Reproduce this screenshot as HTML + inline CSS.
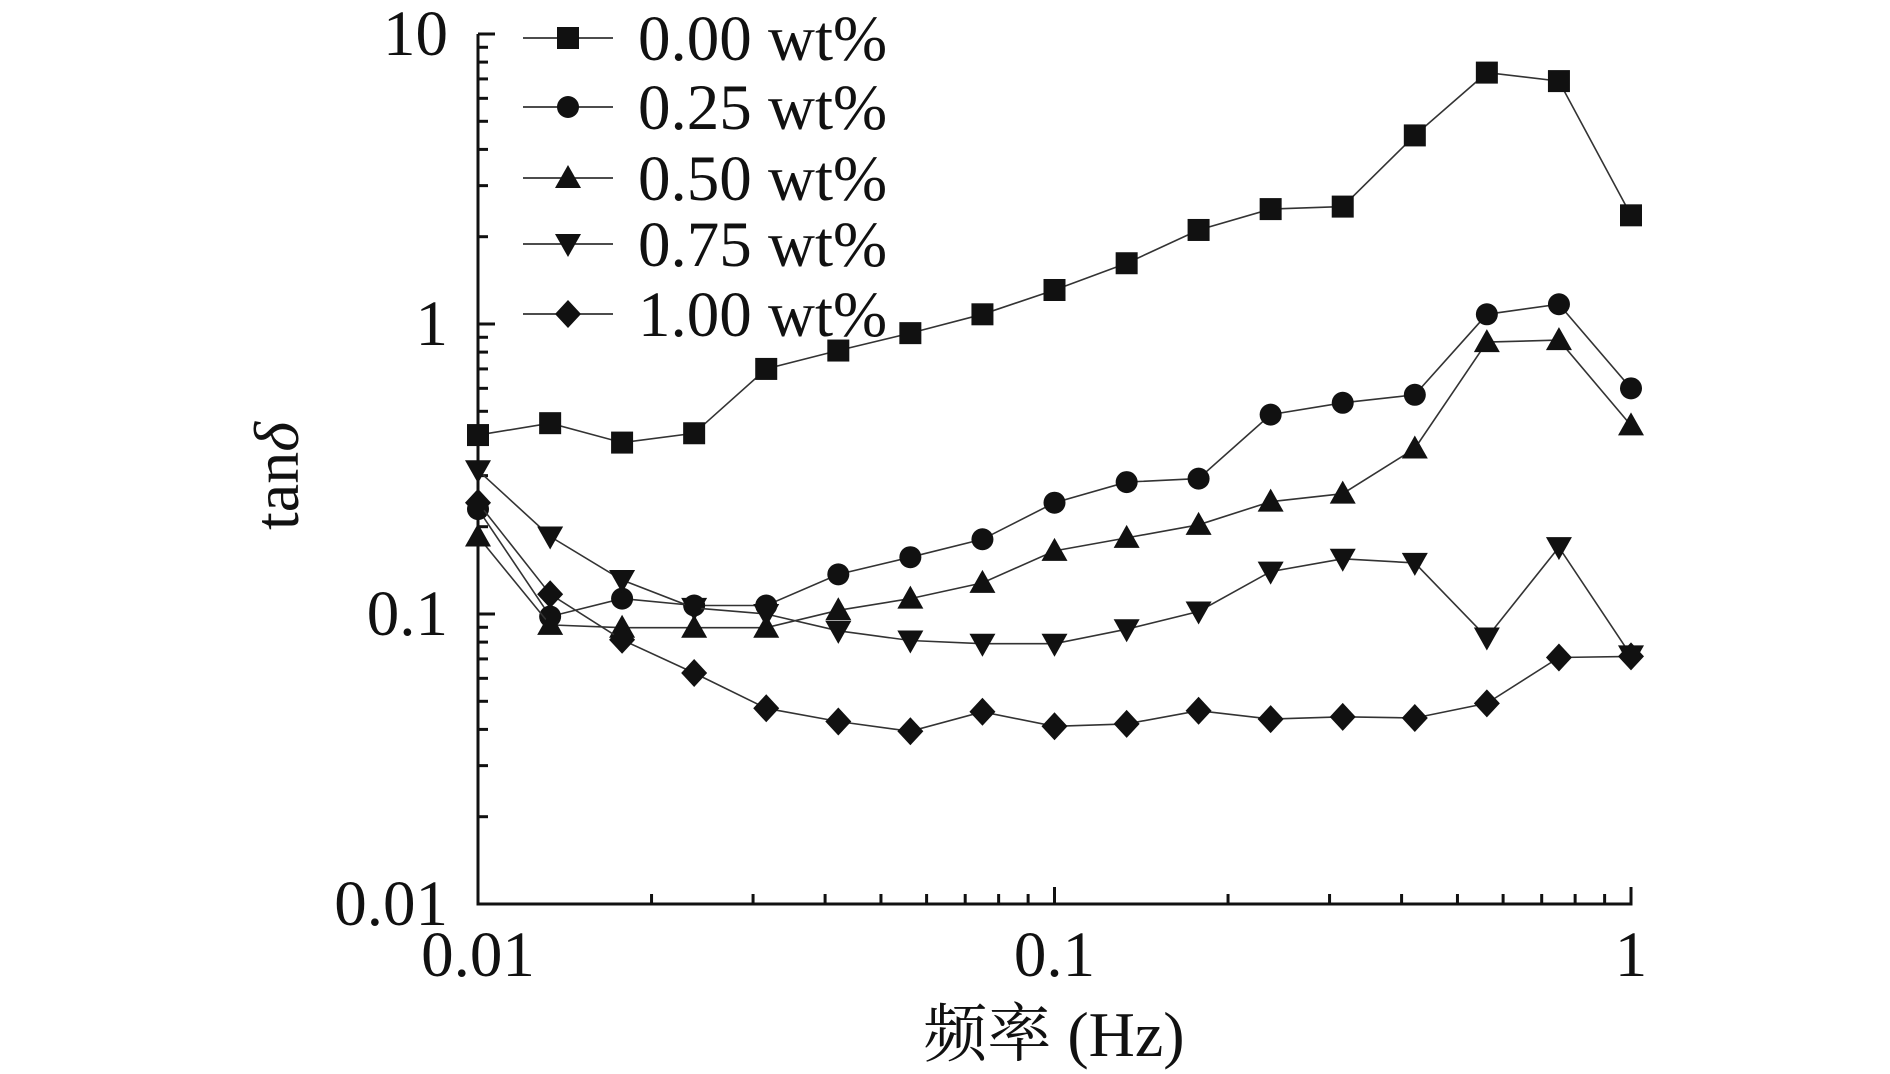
<!DOCTYPE html>
<html><head><meta charset="utf-8"><style>
html,body{margin:0;padding:0;background:#fff;}
svg{display:block;}
text{font-family:"Liberation Serif","Noto Serif CJK SC",serif;fill:#111;}
</style></head><body>
<svg id="chart" width="1890" height="1074" viewBox="0 0 1890 1074" xmlns="http://www.w3.org/2000/svg">
<g id="axes"></g>
<g id="series"></g>
<g id="legend"></g>
<text x="1054" y="1056" font-size="64" text-anchor="middle">频率 (Hz)</text>
<text transform="translate(298,476) rotate(-90)" font-size="64" text-anchor="middle">tan<tspan font-style="italic">δ</tspan></text>
</svg>
<script>
const freqs = [0.01,0.01334,0.01778,0.02371,0.03162,0.04217,0.05623,0.07499,0.1,0.1334,0.1778,0.2371,0.3162,0.4217,0.5623,0.7499,1];
const s000 = [0.414,0.455,0.39,0.42,0.70,0.81,0.93,1.08,1.31,1.62,2.11,2.49,2.54,4.47,7.36,6.88,2.37];
const s025 = [0.23,0.098,0.113,0.107,0.107,0.137,0.157,0.181,0.242,0.285,0.293,0.487,0.535,0.57,1.08,1.17,0.60];
const s050 = [0.185,0.0917,0.0897,0.0897,0.0897,0.103,0.113,0.128,0.165,0.183,0.203,0.244,0.26,0.372,0.866,0.88,0.447];
const s075 = [0.313,0.185,0.131,0.105,0.10,0.0875,0.081,0.079,0.079,0.0886,0.102,0.14,0.155,0.15,0.083,0.17,0.072];
const s100 = [0.242,0.117,0.0815,0.0626,0.0473,0.0426,0.0394,0.046,0.041,0.0418,0.0464,0.0434,0.0442,0.0438,0.0492,0.0708,0.0714];
const seriesNames = ["0.00 wt%","0.25 wt%","0.50 wt%","0.75 wt%","1.00 wt%"];
const xTickLabels = ["0.01","0.1","1"];
const yTickLabels = ["0.01","0.1","1","10"];

const NS="http://www.w3.org/2000/svg";
const L=478,R=1631,T=34,B=904;
function xs(v){return L+(Math.log10(v)+2)/2*(R-L);}
function ys(v){return B-(Math.log10(v)+2)/3*(B-T);}
function mk(tag,attrs,parent){const e=document.createElementNS(NS,tag);for(const k in attrs)e.setAttribute(k,attrs[k]);parent.appendChild(e);return e;}
const axes=document.getElementById('axes');
// axis lines
let ax=mk('path',{d:`M${L},${T} L${L},${B} L${R},${B} L${R},${B-16}`,fill:'none',stroke:'#111','stroke-width':3},axes);


// y ticks
for(let d=-2;d<=1;d++){
  for(let m=1;m<=9;m++){
    const v=m*Math.pow(10,d); if(v>10.0001)break;
    const y=ys(v); const len=(m===1)?17:10;
    if(m>1&&d===1)break;
    const t=mk('line',{x1:L,x2:L+len,y1:y,y2:y,stroke:'#111','stroke-width':3},axes);
    
    
  }
}
yTickLabels.forEach(s=>{
  const t=mk('text',{x:L-30,y:ys(parseFloat(s))+21,'font-size':65,'text-anchor':'end'},axes);
  t.textContent=s;
  
  
});
// x ticks
for(let d=-2;d<=0;d++){
  for(let m=1;m<=9;m++){
    const v=m*Math.pow(10,d); if(d===0&&m>1)break;
    const x=xs(v); const len=(m===1)?17:10;
    const t=mk('line',{x1:x,x2:x,y1:B,y2:B-len,stroke:'#111','stroke-width':3},axes);
    
    
  }
}
xTickLabels.forEach(s=>{
  const t=mk('text',{x:xs(parseFloat(s)),y:976,'font-size':65,'text-anchor':'middle'},axes);
  t.textContent=s;
  
  
});
function marker(type,x,y,parent){
  let e;
  if(type==='square')e=mk('rect',{x:x-11,y:y-11,width:22,height:22,fill:'#111'},parent);
  else if(type==='circle')e=mk('circle',{cx:x,cy:y,r:11,fill:'#111'},parent);
  else if(type==='up')e=mk('polygon',{points:`${x},${y-13} ${x+13},${y+10} ${x-13},${y+10}`,fill:'#111'},parent);
  else if(type==='down')e=mk('polygon',{points:`${x},${y+13} ${x+13},${y-10} ${x-13},${y-10}`,fill:'#111'},parent);
  else e=mk('polygon',{points:`${x},${y-14} ${x+13},${y} ${x},${y+14} ${x-13},${y}`,fill:'#111'},parent);
  return e;
}
const allSeries=[s000,s025,s050,s075,s100];
const types=['square','circle','up','down','diamond'];
const sg=document.getElementById('series');
allSeries.forEach((vals,i)=>{
  const g=mk('g',{},sg);
  
  
  const pts=vals.map((v,j)=>xs(freqs[j]).toFixed(1)+','+ys(v).toFixed(1)).join(' ');
  const pl=mk('polyline',{points:pts,fill:'none',stroke:'#333','stroke-width':1.6},g);
  
  
  vals.forEach((v,j)=>{
    const m=marker(types[i],xs(freqs[j]),ys(v),g);
    
    
  });
});
const lg=document.getElementById('legend');
const rows=[38,107,178,244,314];
seriesNames.forEach((n,i)=>{
  const g=mk('g',{},lg);
  
  
  mk('line',{x1:523,x2:613,y1:rows[i],y2:rows[i],stroke:'#111','stroke-width':1.6},g);
  marker(types[i],568,rows[i],g);
  const t=mk('text',{x:638,y:rows[i]+22,'font-size':65},g);
  t.textContent=n;
});
</script>
</body></html>
